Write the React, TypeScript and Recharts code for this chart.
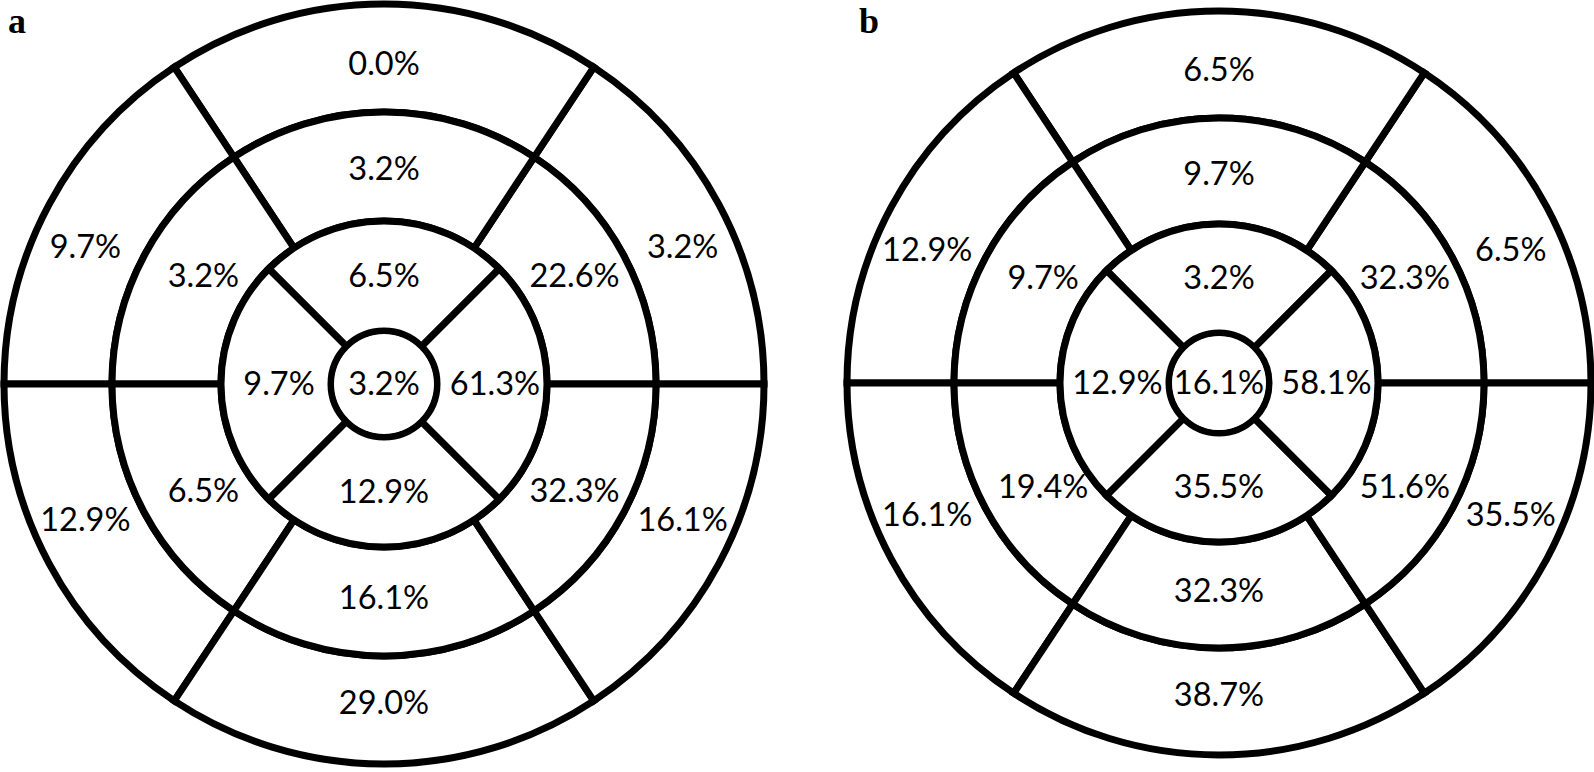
import React from 'react';
import { PieChart, Pie } from 'recharts';

// bull's-eye values, listed counter-clockwise from 3 o'clock
// basal / mid rings: upper-right, top, upper-left, lower-left, bottom, lower-right
// apical ring: top, left, bottom, right
const basalA = [3.2, 0.0, 9.7, 12.9, 29.0, 16.1];
const midA = [22.6, 3.2, 3.2, 6.5, 16.1, 32.3];
const apicalA = [6.5, 9.7, 12.9, 61.3];
const apexA = [3.2];

const basalB = [6.5, 6.5, 12.9, 16.1, 38.7, 35.5];
const midB = [32.3, 9.7, 9.7, 19.4, 32.3, 51.6];
const apicalB = [3.2, 12.9, 35.5, 58.1];
const apexB = [16.1];

// angular widths of the segments (degrees)
const SIX_SPANS = [56.5, 67, 56.5, 56.5, 67, 56.5];
const FOUR_SPANS = [90, 90, 90, 90];

const RAD = Math.PI / 180;
const FONT = 'Lato, "Noto Sans", sans-serif';

const rows = (vals: number[], spans: number[]) =>
  vals.map((v, i) => ({ name: `${v.toFixed(1)}%`, span: spans[i] }));

// where a label sits inside its segment
interface LabelPlace {
  tb: number; // radial fraction for top/bottom segments
  side: number; // radial fraction for side segments
  sideAngle?: number; // angle above/below horizontal for side labels
  sideDx?: number;
}

const makeLabel = (place: LabelPlace) => (p: any) => {
  const isSide = Math.abs(Math.sin(p.midAngle * RAD)) < 0.97;
  let ang = p.midAngle;
  if (isSide && place.sideAngle != null) {
    const sx = Math.sign(Math.cos(p.midAngle * RAD));
    const sy = Math.sign(Math.sin(p.midAngle * RAD));
    ang = Math.atan2(sy * Math.sin(place.sideAngle * RAD), sx * Math.cos(place.sideAngle * RAD)) / RAD;
  }
  const frac = isSide ? place.side : place.tb;
  const r = p.innerRadius === 0 ? 0 : p.innerRadius + frac * (p.outerRadius - p.innerRadius);
  const x = p.cx + r * Math.cos(-ang * RAD) + (isSide && p.innerRadius > 0 ? place.sideDx ?? 0 : 0);
  const y = p.cy + r * Math.sin(-ang * RAD) - 2;
  return (
    <text
      key={`lbl-${p.cx}-${p.index}-${p.outerRadius}`}
      x={x}
      y={y}
      textAnchor="middle"
      dominantBaseline="central"
      fontFamily={FONT}
      fontSize={32.5}
      fill="#000"
    >
      {p.payload.name}
    </text>
  );
};

const basalLabel = makeLabel({ tb: 0.44, side: 0.52, sideAngle: 24.5 });
const midLabel = makeLabel({ tb: 0.47, side: 0.47, sideAngle: 30, sideDx: 5 });
const apicalLabel = makeLabel({ tb: 0.5, side: 0.5, sideDx: 3 });
const apexLabel = makeLabel({ tb: 0, side: 0 });

interface Panel {
  cx: number;
  cy: number;
  radii: number[]; // apex, apical, mid, basal
  basal: number[];
  mid: number[];
  apical: number[];
  apex: number[];
}

const panels: Panel[] = [
  { cx: 384, cy: 384, radii: [53, 163, 272, 380], basal: basalA, mid: midA, apical: apicalA, apex: apexA },
  { cx: 1219, cy: 383, radii: [50, 159, 265, 372], basal: basalB, mid: midB, apical: apicalB, apex: apexB },
];

const ringProps = {
  dataKey: 'span',
  fill: '#fff',
  stroke: '#000',
  strokeWidth: 7,
  labelLine: false,
  isAnimationActive: false,
};

const letterStyle: React.CSSProperties = {
  position: 'absolute',
  top: 1,
  fontFamily: '"Liberation Serif", "Times New Roman", serif',
  fontWeight: 'bold',
  fontSize: 36,
  lineHeight: 1.12,
};

export default function App() {
  return (
    <div style={{ position: 'absolute', left: 0, top: 0, width: 1594, height: 772, background: '#fff' }}>
      <PieChart width={1594} height={772} margin={{ top: 0, right: 0, bottom: 0, left: 0 }}>
        {panels.map((pn, k) => [
          <Pie
            key={`basal${k}`}
            {...ringProps}
            label={basalLabel}
            data={rows(pn.basal, SIX_SPANS)}
            cx={pn.cx}
            cy={pn.cy}
            innerRadius={pn.radii[2]}
            outerRadius={pn.radii[3]}
            startAngle={0}
            endAngle={360}
          />,
          <Pie
            key={`mid${k}`}
            {...ringProps}
            label={midLabel}
            data={rows(pn.mid, SIX_SPANS)}
            cx={pn.cx}
            cy={pn.cy}
            innerRadius={pn.radii[1]}
            outerRadius={pn.radii[2]}
            startAngle={0}
            endAngle={360}
          />,
          <Pie
            key={`apical${k}`}
            {...ringProps}
            label={apicalLabel}
            data={rows(pn.apical, FOUR_SPANS)}
            cx={pn.cx}
            cy={pn.cy}
            innerRadius={pn.radii[0]}
            outerRadius={pn.radii[1]}
            startAngle={45}
            endAngle={405}
          />,
          <Pie
            key={`apex${k}`}
            {...ringProps}
            stroke="none"
            label={apexLabel}
            data={rows(pn.apex, [360])}
            cx={pn.cx}
            cy={pn.cy}
            innerRadius={0}
            outerRadius={pn.radii[0] - 3}
            startAngle={90}
            endAngle={450}
          />,
        ])}
      </PieChart>
      <div style={{ ...letterStyle, left: 8 }}>a</div>
      <div style={{ ...letterStyle, left: 859 }}>b</div>
    </div>
  );
}
